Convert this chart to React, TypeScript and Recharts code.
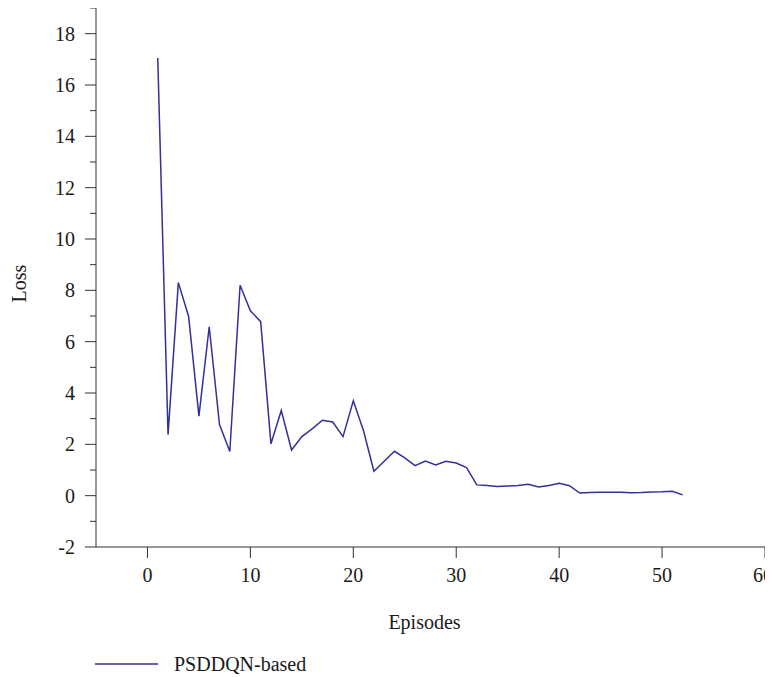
import { Legend, Line, LineChart, XAxis, YAxis } from 'recharts'

const episodes = [
    1, 2, 3, 4, 5, 6, 7, 8, 9, 10, 11, 12, 13, 14, 15, 16, 17, 18, 19, 20, 21, 22, 23, 24, 25, 26,
    27, 28, 29, 30, 31, 32, 33, 34, 35, 36, 37, 38, 39, 40, 41, 42, 43, 44, 45, 46, 47, 48, 49, 50,
    51, 52,
]

const loss = [
    17.05, 2.38, 8.3, 6.98, 3.1, 6.58, 2.77, 1.72, 8.2, 7.2, 6.78, 2.02, 3.32, 1.78, 2.3, 2.6, 2.94,
    2.87, 2.3, 3.7, 2.52, 0.95, 1.34, 1.73, 1.47, 1.17, 1.35, 1.2, 1.34, 1.27, 1.09, 0.42, 0.4, 0.36,
    0.38, 0.4, 0.44, 0.34, 0.4, 0.48, 0.39, 0.1, 0.12, 0.13, 0.13, 0.13, 0.11, 0.12, 0.14, 0.15, 0.17,
    0.03,
]

const xTicks = [0, 10, 20, 30, 40, 50, 60]
const yTicks = [-2, -1, 0, 1, 2, 3, 4, 5, 6, 7, 8, 9, 10, 11, 12, 13, 14, 15, 16, 17, 18, 19]
const seriesName = 'PSDDQN-based'

const data = episodes.map((episode, i) => ({ episode, loss: loss[i] }))

const AXIS = '#333'
const TEXT = '#1a1a1a'
const LINE = '#33309a'
const FONT = '"Liberation Serif", "Times New Roman", serif'

// only even values get a label and a longer tick
const LossTick = (props: any) => {
    const { x, y, payload } = props
    if (payload.value % 2 !== 0) return null
    return (
        <g>
            <line x1={x + 10} x2={x + 15} y1={y} y2={y} stroke={AXIS} />
            <text x={x} y={y} dy="0.35em" textAnchor="end" fill={TEXT} fontSize={20} fontFamily={FONT}>
                {payload.value}
            </text>
        </g>
    )
}

const LossLabel = ({ viewBox }: any) => {
    const cx = viewBox.x + 10.5
    const cy = viewBox.y + viewBox.height / 2 + 6
    return (
        <text
            x={cx}
            y={cy}
            transform={`rotate(-90 ${cx} ${cy})`}
            textAnchor="middle"
            dominantBaseline="central"
            fill={TEXT}
            fontSize={20}
            fontFamily={FONT}
        >
            Loss
        </text>
    )
}

const EpisodesLabel = ({ viewBox }: any) => (
    <text
        x={viewBox.x + viewBox.width / 2 - 6}
        y={viewBox.y + 82}
        textAnchor="middle"
        fill={TEXT}
        fontSize={20}
        fontFamily={FONT}
    >
        Episodes
    </text>
)

const LegendBox = () => (
    <div style={{ display: 'flex', alignItems: 'center', height: 26, paddingLeft: 87 }}>
        <svg width={63} height={26}>
            <line x1={0} x2={63} y1={13} y2={13} stroke={LINE} strokeWidth={1.5} />
        </svg>
        <span style={{ marginLeft: 16, fontSize: 20, fontFamily: FONT, color: TEXT }}>{seriesName}</span>
    </div>
)

const App = () => {
    return (
        <div style={{ fontFamily: FONT }}>
            <LineChart width={765} height={669} data={data} margin={{ top: 0, right: 8, left: 0, bottom: 0 }}>
                <XAxis
                    dataKey="episode"
                    type="number"
                    domain={[-5, 60]}
                    ticks={xTicks}
                    height={104}
                    stroke={AXIS}
                    tickSize={11}
                    tickMargin={10}
                    tick={{ fill: TEXT, fontSize: 20, fontFamily: FONT }}
                    label={<EpisodesLabel />}
                />
                <YAxis
                    type="number"
                    domain={[-2, 19]}
                    ticks={yTicks}
                    interval={0}
                    width={88}
                    stroke={AXIS}
                    tickSize={6}
                    tickMargin={15}
                    tick={<LossTick />}
                    label={<LossLabel />}
                />
                <Legend verticalAlign="bottom" content={<LegendBox />} />
                <Line
                    type="linear"
                    dataKey="loss"
                    name={seriesName}
                    stroke={LINE}
                    strokeWidth={1.5}
                    dot={false}
                    isAnimationActive={false}
                />
            </LineChart>
        </div>
    )
}

export default App
